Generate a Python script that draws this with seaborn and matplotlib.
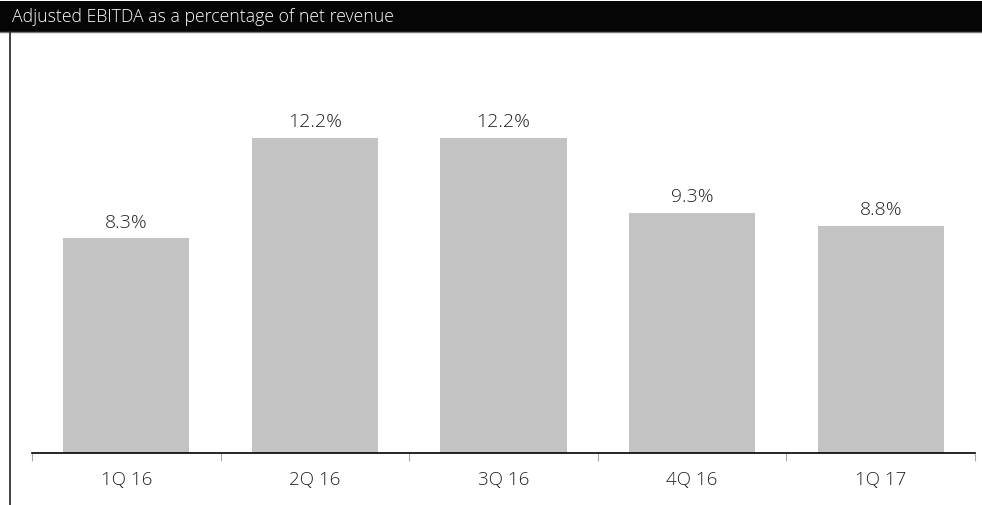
import matplotlib
matplotlib.use("Agg")
import matplotlib.pyplot as plt
from matplotlib.patches import Rectangle
from matplotlib.lines import Line2D
import seaborn as sns
import pandas as pd

quarters = ["1Q 16", "2Q 16", "3Q 16", "4Q 16", "1Q 17"]
margin_pct = [8.3, 12.2, 12.2, 9.3, 8.8]
title = "Adjusted EBITDA as a percentage of net revenue"

sns.set_theme(style="white")
plt.rcParams["font.family"] = ["Open Sans", "DejaVu Sans"]
LIGHT = 300

W, H = 982, 506
fig = plt.figure(figsize=(W / 100, H / 100), dpi=100)

# plot area in pixel coordinates
left, right, top, bottom = 32, 975, 34, 454
ax = fig.add_axes([left / W, 1 - bottom / H, (right - left) / W, (bottom - top) / H])

df = pd.DataFrame({"quarter": quarters, "pct": margin_pct})
sns.barplot(data=df, x="quarter", y="pct", color="#c3c3c3", width=0.67,
            saturation=1, ax=ax, edgecolor="none")

for i, v in enumerate(margin_pct):
    ax.text(i, v + 0.28, f"{v:.1f}%", ha="center", va="bottom",
            fontsize=14, color="#222222", fontweight=LIGHT)

ax.set_xlim(-0.5, len(quarters) - 0.5)
ax.set_ylim(0, 16.25)
ax.set_xlabel("")
ax.set_ylabel("")
ax.set_yticks([])
for s in ["top", "right", "left"]:
    ax.spines[s].set_visible(False)
ax.spines["bottom"].set_color("#000000")
ax.spines["bottom"].set_linewidth(1.2)

ax.tick_params(axis="x", which="major", length=0, pad=12,
               labelsize=13.5, labelcolor="#222222")
for lab in ax.get_xticklabels():
    lab.set_fontweight(LIGHT)
ax.set_xticks([i - 0.5 for i in range(len(quarters) + 1)], minor=True)
ax.tick_params(axis="x", which="minor", bottom=True, length=6, width=0.8,
               color="#aaaaaa", direction="out")

# black header band with title
fig.patches.append(Rectangle((0, 1 - 33 / H), 1, 31.5 / H, transform=fig.transFigure,
                             facecolor="#050505", edgecolor="none"))
fig.add_artist(Line2D([0, 1], [1 - 33 / H, 1 - 33 / H], transform=fig.transFigure,
                      color="#777777", linewidth=1))
fig.text(12 / W, 1 - 17 / H, title, color="white", fontsize=12.7,
         va="center", ha="left", fontweight=LIGHT)

# left frame rule
fig.add_artist(Line2D([10 / W, 10 / W], [0, 1 - 33 / H], transform=fig.transFigure,
                      color="#333333", linewidth=1.3))

fig.savefig("out.png", dpi=100)
